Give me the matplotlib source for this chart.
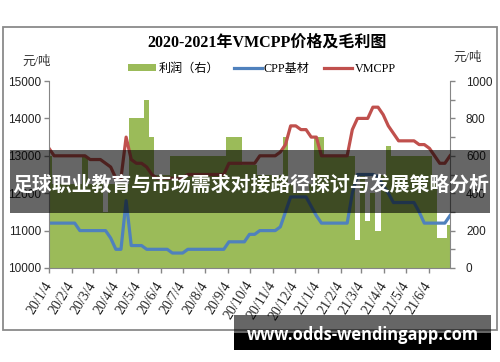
import matplotlib
matplotlib.use('Agg')
import matplotlib.pyplot as plt
import pandas as pd
from matplotlib.patches import Rectangle, Patch
from matplotlib.lines import Line2D

plt.rcParams['font.family'] = ['Liberation Sans', 'Noto Sans CJK SC']

weeks = pd.date_range('2020-01-04', periods=79, freq='7D')

cpp = [11200, 11200, 11200, 11200, 11200, 11200, 11000, 11000, 11000, 11000,
       11000, 11000, 10800, 10500, 10500, 11800, 10600, 10600, 10600, 10500,
       10500, 10500, 10500, 10500, 10400, 10400, 10400, 10500, 10500, 10500,
       10500, 10500, 10500, 10500, 10500, 10700, 10700, 10700, 10700, 10900,
       10900, 11000, 11000, 11000, 11000, 11100, 11500, 11900, 11900, 11900,
       11900, 11650, 11400, 11200, 11200, 11200, 11200, 11200, 11200, 12000,
       12500, 12500, 12500, 12500, 12450, 12200, 12000, 11750, 11750, 11750,
       11750, 11750, 11500, 11200, 11200, 11200, 11200, 11200, 11400]

vmcpp = [13200, 13000, 13000, 13000, 13000, 13000, 13000, 13000, 12900, 12900,
         12900, 12800, 12700, 12400, 12400, 13500, 12900, 12800, 12800, 12700,
         12500, 12400, 12400, 12400, 12400, 12400, 12400, 12500, 12500, 12500,
         12500, 12500, 12500, 12500, 12500, 12800, 12800, 12800, 12800, 12800,
         12800, 13000, 13000, 13000, 13000, 13100, 13300, 13800, 13800, 13700,
         13700, 13500, 13500, 13000, 13000, 13000, 13000, 13000, 13000, 13700,
         14000, 14000, 14000, 14300, 14300, 14100, 13800, 13600, 13400, 13400,
         13400, 13400, 13300, 13300, 13200, 13000, 12800, 12800, 13000]

profit = [600, 450, 450, 450, 450, 450, 450, 600, 450, 450,
          450, 300, 450, 450, 450, 450, 800, 800, 800, 900,
          700, 500, 500, 500, 600, 600, 600, 600, 600, 600,
          600, 600, 600, 600, 600, 700, 700, 700, 550, 550,
          550, 500, 500, 500, 500, 500, 700, 450, 400, 400,
          400, 450, 700, 700, 600, 600, 600, 600, 600, 600,
          150, 500, 250, 400, 200, 500, 650, 600, 600, 600,
          600, 600, 600, 600, 600, 450, 160, 160, 230]

month_ticks = pd.date_range('2020-01-01', periods=18, freq='MS') + pd.Timedelta(days=3)
month_labels = ['20/1/4', '20/2/4', '20/3/4', '20/4/4', '20/5/4', '20/6/4',
                '20/7/4', '20/8/4', '20/9/4', '20/10/4', '20/11/4', '20/12/4',
                '21/1/4', '21/2/4', '21/3/4', '21/4/4', '21/5/4', '21/6/4']

title = '2020-2021年VMCPP价格及毛利图'
series_names = ['利润（右）', 'CPP基材', 'VMCPP']
banner_text = '足球职业教育与市场需求对接路径探讨与发展策略分析'
site_text = 'www.odds-wendingapp.com'

GREEN = '#9BBB59'
BLUE = '#4F81BD'
RED = '#C0504D'
AXC = '#868686'
SERIF = ['Liberation Serif', 'Noto Sans CJK SC']

W, H = 500, 362
fig = plt.figure(figsize=(W / 100, H / 100), dpi=100)

def fx(px):
    return px / W

def fy(py):
    return 1 - py / H

ax = fig.add_axes([fx(49), fy(268), fx(450) - fx(49), fy(81) - fy(268)])
ax2 = ax.twinx()

ax2.fill_between(weeks, 0, profit, step='mid', color=GREEN, linewidth=0)
ax.plot(weeks, cpp, color=BLUE, lw=2.3)
ax.plot(weeks, vmcpp, color=RED, lw=2.3)

ax.set_zorder(ax2.get_zorder() + 1)
ax.patch.set_visible(False)

ax.set_xlim(weeks[0], weeks[-1])
ax.set_ylim(10000, 15000)
ax2.set_ylim(0, 1000)

ax.set_yticks(range(10000, 15001, 1000))
ax2.set_yticks(range(0, 1001, 100))
ax2.set_yticklabels([str(v) if v % 200 == 0 else '' for v in range(0, 1001, 100)])
ax.set_xticks(month_ticks)
ax.set_xticklabels(month_labels, rotation=58, ha='right', va='center',
                   rotation_mode='anchor', fontsize=10, family=SERIF)

for a in (ax, ax2):
    for s in a.spines.values():
        s.set_visible(False)
    a.tick_params(colors=AXC, labelcolor='#222222', length=3.5, width=1,
                  labelsize=8.5, direction='out')
ax.spines['left'].set_visible(True)
ax.spines['left'].set_color(AXC)
ax.spines['bottom'].set_visible(True)
ax.spines['bottom'].set_color(AXC)
ax2.spines['right'].set_visible(True)
ax2.spines['right'].set_color(AXC)
ax.tick_params(axis='y', pad=2)
ax.tick_params(axis='x', pad=7, labelsize=10)
ax2.tick_params(axis='y', pad=8)

fig.text(fx(267), fy(43), title, ha='center', va='center', fontsize=11.5,
         fontweight='bold', family=SERIF)
fig.text(fx(37), fy(62), '元/吨', ha='center', va='center', fontsize=9,
         color='#333333', family=SERIF)
fig.text(fx(468), fy(58), '元/吨', ha='center', va='center', fontsize=9,
         color='#333333', family=SERIF)

handles = [Patch(facecolor=GREEN, edgecolor='none'),
           Line2D([], [], color=BLUE, lw=2.3),
           Line2D([], [], color=RED, lw=2.3)]
fig.legend(handles, series_names, loc='center', bbox_to_anchor=(fx(262), fy(69)),
           ncol=3, frameon=False, handlelength=2.3, handleheight=0.5,
           handletextpad=0.2, columnspacing=1.2,
           prop={'family': SERIF, 'size': 8.7})

# outer chart border
fig.add_artist(Rectangle((fx(3), fy(330)), fx(497) - fx(3), fy(27) - fy(330),
                         transform=fig.transFigure, fill=False, edgecolor='#8a8a8a',
                         lw=1.3, zorder=3))

# banner overlay
fig.add_artist(Rectangle((fx(10), fy(213)), fx(490) - fx(10), fy(150) - fy(213),
                         transform=fig.transFigure, facecolor='black', alpha=0.6,
                         edgecolor='none', zorder=5))
fig.text(fx(251), fy(184), banner_text, ha='center', va='center', fontsize=14.3,
         fontweight='bold', color='white', zorder=6,
         family=['Noto Sans CJK SC', 'DejaVu Sans'])

# site watermark
fig.add_artist(Rectangle((fx(234), fy(333)), fx(491) - fx(234), fy(315) - fy(333),
                         transform=fig.transFigure, facecolor='black', alpha=0.6,
                         edgecolor='none', zorder=5))
fig.add_artist(Rectangle((fx(234), fy(350)), fx(491) - fx(234), fy(333) - fy(350),
                         transform=fig.transFigure, facecolor='black',
                         edgecolor='none', zorder=5))
fig.text(fx(363), fy(335), site_text, ha='center', va='center', fontsize=11.9,
         fontweight='bold', color='white', zorder=6, family=['Open Sans', 'DejaVu Sans'])

fig.savefig('out.png', dpi=100)
